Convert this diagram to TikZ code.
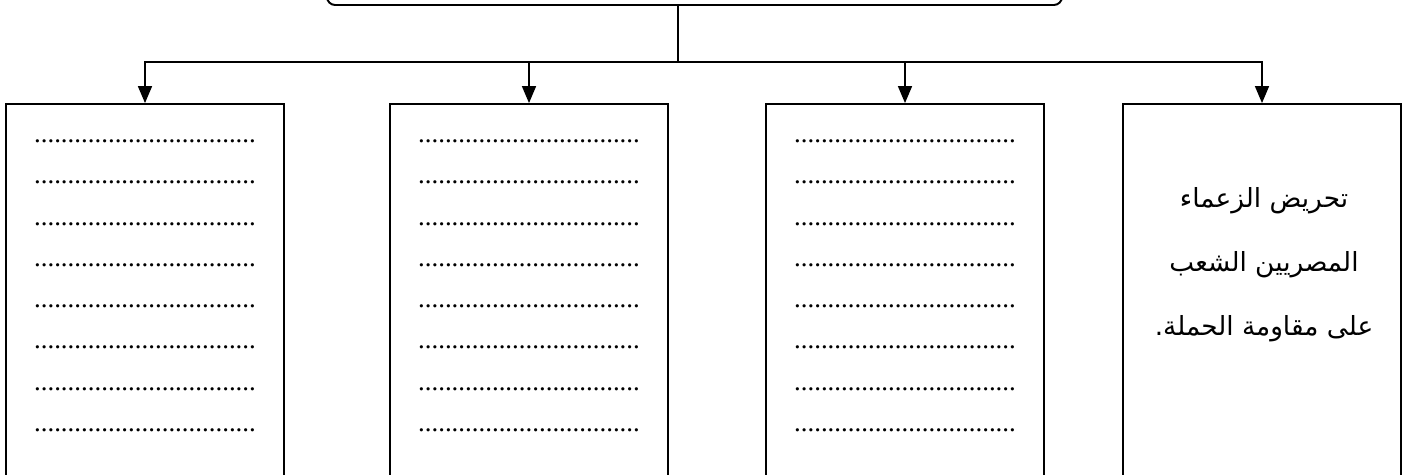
\documentclass[tikz,border=0pt]{standalone}
\usepackage{fontspec}
\setmainfont{Liberation Serif}
\newfontfamily\arabicfont[Script=Arabic]{DejaVu Sans}
\TeXXeTstate=1
\usetikzlibrary{arrows.meta}

\tikzset{
  box/.style={draw, line width=1.1pt, minimum width=5.56cm, minimum height=7.92cm, inner sep=0pt},
  link/.style={line width=0.9pt},
  arr/.style={link, -{Triangle[length=0.34cm, width=0.28cm]}},
  dots/.style={font=\fontsize{15.3}{18}\selectfont, anchor=base, inner sep=0pt},
  arabic/.style={font=\fontsize{15}{36.5}\arabicfont, align=center}
}

\begin{document}
\begin{tikzpicture}[x=0.02cm, y=-0.02cm]
    \useasboundingbox (0,0) rectangle (1405,474);

    % Top box (cut by the page edge)
    \node[draw, line width=1.1pt, rounded corners=0.16cm, minimum width=14.7cm, minimum height=1.3cm] (top) at (694.5,-27.5) {};

    % The four boxes
    \node[box] (b1) at (145,302) {};
    \node[box] (b2) at (529,302) {};
    \node[box] (b3) at (905,302) {};
    \node[box] (b4) at (1262,302) {};

    % Branching bar and arrows
    \coordinate (bar) at (678,62);
    \draw[link] (top.south -| bar) -- (bar);
    \draw[arr] (bar) -| (b1.north);
    \draw[arr] (bar) -| (b4.north);
    \draw[arr] (bar -| b2.north) -- (b2.north);
    \draw[arr] (bar -| b3.north) -- (b3.north);

    % Dotted answer lines
    \foreach \b in {b1,b2,b3}
      \foreach \r in {0,...,7}
        \path (\b.north) ++(0,39.5+41.25*\r) node[dots] (\b-\r) {.................................};

    % Text of the last box
    \node[arabic] (t4) at (1264,265) {\beginR تحريض الزعماء\endR\\\beginR المصريين الشعب\endR\\\beginR على مقاومة الحملة.\endR};

\end{tikzpicture}
\end{document}
